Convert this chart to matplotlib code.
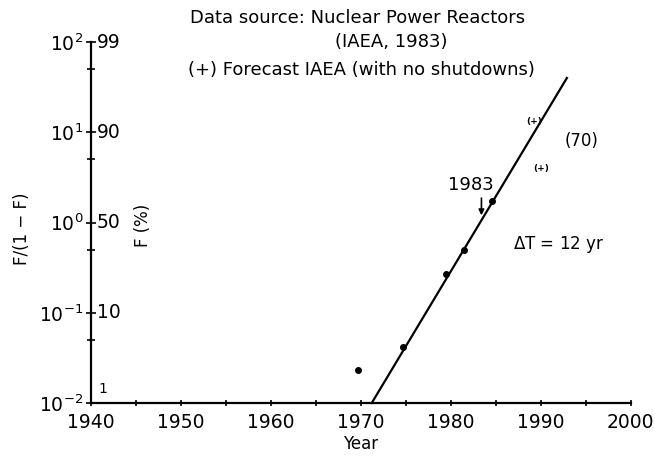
import matplotlib
matplotlib.use("Agg")
import matplotlib.pyplot as plt
from matplotlib.ticker import FixedLocator, FixedFormatter

plt.rcParams['font.family'] = ['DejaVu Sans']

# observed data (year, F/(1-F))
obs_years = [1969.7, 1974.7, 1979.5, 1981.5, 1984.6]
obs_vals = [0.023, 0.042, 0.27, 0.50, 1.75]

# fitted Fisher-Pry line
fit_years = [1971.2, 1992.9]
fit_vals = [0.01, 40.0]

# IAEA forecast points
fc_years = [1989.3, 1990.0]
fc_vals = [13.3, 4.0]

y_major = [1e-2, 1e-1, 1e0, 1e1, 1e2]
y_major_labels = ['$10^{-2}$', '$10^{-1}$', '$10^{0}$', '$10^{1}$', '$10^{2}$']
f_labels = ['1', '10', '50', '90', '99']
y_minor = [0.05, 0.5, 5, 50]
x_ticks = list(range(1940, 2001, 5))
x_labels = [str(y) if y % 10 == 0 else '' for y in x_ticks]

fig = plt.figure(figsize=(6.55, 4.57), dpi=100)
ax = fig.add_axes([0.139, 0.118, 0.824, 0.790])

ax.set_yscale('log')
ax.set_xlim(1940, 2000)
ax.set_ylim(1e-2, 1e2)

ax.plot(fit_years, fit_vals, color='black', lw=1.6, clip_on=False)
ax.plot(obs_years, obs_vals, 'o', color='black', ms=4)
for x, y in zip(fc_years, fc_vals):
    ax.text(x, y, '(+)', fontsize=6.5, ha='center', va='center', fontweight='bold')

ax.annotate('', xy=(1983.4, 1.12), xytext=(1983.4, 2.0),
            arrowprops=dict(arrowstyle='-|>', color='black', lw=1.2, mutation_scale=8))
ax.text(1982.2, 2.6, '1983', fontsize=13, ha='center', va='center')
ax.text(1994.5, 8.1, '(70)', fontsize=12, ha='center', va='center')
ax.text(1986.9, 0.57, r'$\Delta$T = 12 yr', fontsize=12, ha='left', va='center')

for s in ['top', 'right']:
    ax.spines[s].set_visible(False)
ax.spines['left'].set_linewidth(1.6)
ax.spines['bottom'].set_linewidth(1.6)

ax.yaxis.set_major_locator(FixedLocator(y_major))
ax.yaxis.set_major_formatter(FixedFormatter(y_major_labels))
ax.yaxis.set_minor_locator(FixedLocator(y_minor))
ax.yaxis.set_minor_formatter(FixedFormatter([''] * len(y_minor)))
ax.tick_params(axis='y', which='major', direction='inout', length=7, width=1.2,
               labelsize=13.5, pad=2)
ax.tick_params(axis='y', which='minor', direction='inout', length=6, width=1.2)

ax.xaxis.set_major_locator(FixedLocator(x_ticks))
ax.xaxis.set_major_formatter(FixedFormatter(x_labels))
ax.tick_params(axis='x', which='major', direction='inout', length=4, width=1.2,
               labelsize=13.5, pad=5)

# F (%) labels on the right of the axis
for val, lab in zip(y_major, f_labels):
    if lab == '1':
        ax.annotate(lab, xy=(0, val), xycoords=('axes fraction', 'data'),
                    xytext=(5, 5), textcoords='offset points',
                    fontsize=10, ha='left', va='bottom')
    else:
        ax.annotate(lab, xy=(0, val), xycoords=('axes fraction', 'data'),
                    xytext=(4, 0), textcoords='offset points',
                    fontsize=13.5, ha='left', va='center')

ax.set_xlabel('Year', fontsize=12, labelpad=2)
fig.text(0.034, 0.50, 'F/(1 − F)', rotation=90, fontsize=12, ha='center', va='center')
fig.text(0.219, 0.507, 'F (%)', rotation=90, fontsize=12, ha='center', va='center')

fig.text(0.290, 0.961, 'Data source: Nuclear Power Reactors', fontsize=13,
         ha='left', va='center')
fig.text(0.512, 0.908, '(IAEA, 1983)', fontsize=13, ha='left', va='center')
fig.text(0.287, 0.847, '(+) Forecast IAEA (with no shutdowns)', fontsize=13,
         ha='left', va='center')

fig.savefig('out.png', dpi=100)
